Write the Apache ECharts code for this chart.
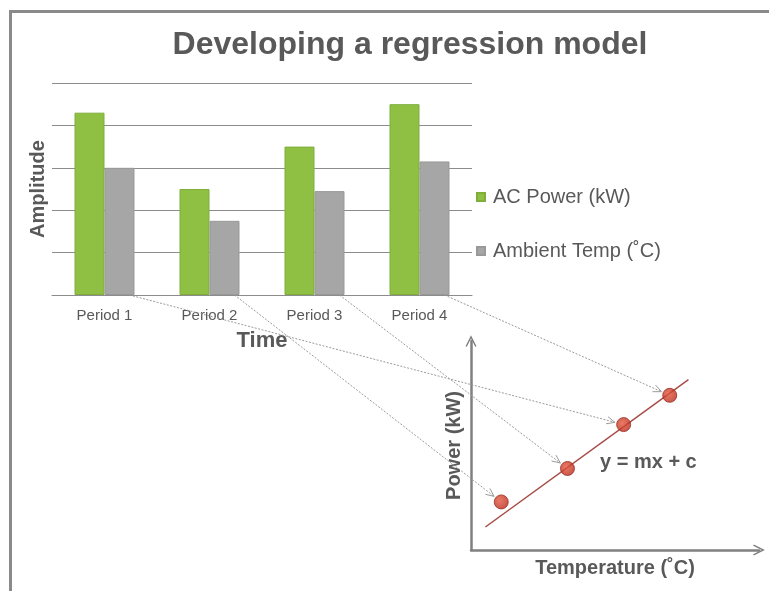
<!DOCTYPE html>
<html>
<head>
<meta charset="utf-8">
<script src="https://cdn.jsdelivr.net/npm/echarts@6/dist/echarts.min.js"></script>
<style>
  html, body { margin: 0; padding: 0; background: #ffffff; }
  #chart { width: 769px; height: 591px; }
</style>
</head>
<body>
<div id="chart"></div>
<script>
// Bar chart: power and temperature per period
var periods = ['Period 1', 'Period 2', 'Period 3', 'Period 4'];
var acPower = [4.3, 2.5, 3.5, 4.5];
var ambientTemp = [3.0, 1.75, 2.45, 3.15];

// Regression sketch: observations (temperature, power) and the fitted line
var observations = [[1.05, 2.3], [3.35, 3.9], [5.3, 6.0], [6.9, 7.4]];
var fitLine = [[0.5, 1.1], [7.55, 8.15]];
// Which observation each period feeds into
var periodToObservation = [2, 0, 1, 3];

var textColor = '#595959';
var axisGray = '#8c8c8c';
var fontFamily = 'Liberation Sans, Arial, sans-serif';

var chart = echarts.init(document.getElementById('chart'));

var chevron = 'path://M0,12 L6,0 L12,12 L10.6,12.8 L6,3.6 L1.4,12.8 Z';

var option = {
  animation: false,
  textStyle: { fontFamily: fontFamily },
  title: {
    text: 'Developing a regression model',
    left: 405,
    top: 24,
    textAlign: 'center',
    textStyle: { fontSize: 32, fontWeight: 'bold', color: textColor, fontFamily: fontFamily }
  },
  legend: {
    orient: 'vertical',
    left: 471,
    top: 180,
    itemWidth: 8,
    itemHeight: 8,
    itemGap: 30,
    icon: 'rect',
    textStyle: { fontSize: 20, color: textColor, lineHeight: 24, padding: [0, 0, 0, 3] },
    data: ['AC Power (kW)', 'Ambient Temp (˚C)']
  },
  grid: [
    { left: 52, top: 83, width: 420, height: 212 },
    { left: 471, top: 341, right: 10, bottom: 41 }
  ],
  xAxis: [
    {
      gridIndex: 0,
      type: 'category',
      data: periods,
      name: 'Time',
      nameLocation: 'middle',
      nameGap: 35,
      nameTextStyle: { fontSize: 22, fontWeight: 'bold', color: textColor },
      axisLine: { lineStyle: { color: axisGray, width: 1 } },
      axisTick: { length: 5, lineStyle: { color: axisGray } },
      axisLabel: { fontSize: 15, color: textColor, margin: 13 }
    },
    {
      gridIndex: 1,
      type: 'value',
      min: 0,
      max: 10,
      name: 'Temperature (˚C)',
      nameLocation: 'middle',
      nameGap: 8,
      nameTextStyle: { fontSize: 20, fontWeight: 'bold', color: textColor },
      axisLine: { lineStyle: { color: '#808080', width: 2.5 }, symbol: ['none', chevron], symbolSize: [11, 12] },
      axisTick: { show: false },
      axisLabel: { show: false },
      splitLine: { show: false }
    }
  ],
  yAxis: [
    {
      gridIndex: 0,
      type: 'value',
      min: 0,
      max: 5,
      interval: 1,
      name: 'Amplitude',
      nameLocation: 'middle',
      nameGap: 4,
      nameTextStyle: { fontSize: 20, fontWeight: 'bold', color: textColor },
      axisLine: { show: false },
      axisTick: { show: false },
      axisLabel: { show: false },
      splitLine: { lineStyle: { color: axisGray, width: 1 } }
    },
    {
      gridIndex: 1,
      type: 'value',
      min: 0,
      max: 10,
      name: 'Power (kW)',
      nameLocation: 'middle',
      nameGap: 7,
      nameTextStyle: { fontSize: 20, fontWeight: 'bold', color: textColor },
      axisLine: { lineStyle: { color: '#808080', width: 2.5 }, symbol: ['none', chevron], symbolSize: [11, 12] },
      axisTick: { show: false },
      axisLabel: { show: false },
      splitLine: { show: false }
    }
  ],
  series: [
    {
      name: 'AC Power (kW)',
      type: 'bar',
      xAxisIndex: 0,
      yAxisIndex: 0,
      data: acPower,
      barWidth: 30,
      barGap: '0%',
      itemStyle: { color: '#8fc044', borderColor: '#7fae3a', borderWidth: 1 }
    },
    {
      name: 'Ambient Temp (˚C)',
      type: 'bar',
      xAxisIndex: 0,
      yAxisIndex: 0,
      data: ambientTemp,
      barWidth: 30,
      barGap: '0%',
      itemStyle: { color: '#a6a6a6', borderColor: '#999999', borderWidth: 1 }
    },
    {
      name: 'fit',
      type: 'line',
      xAxisIndex: 1,
      yAxisIndex: 1,
      data: fitLine,
      symbol: 'none',
      lineStyle: { color: '#a64b46', width: 1.5 },
      z: 3
    },
    {
      name: 'observations',
      type: 'scatter',
      xAxisIndex: 1,
      yAxisIndex: 1,
      data: observations,
      symbolSize: 14,
      itemStyle: {
        color: new echarts.graphic.RadialGradient(0.4, 0.4, 0.7, [
          { offset: 0, color: '#e4573c' },
          { offset: 1, color: '#b3261a' }
        ]),
        borderColor: '#9a2a20',
        borderWidth: 1
      },
      z: 4
    }
  ],
  graphic: []
};

chart.setOption(option);

// Frame, equation label and the dotted connectors from each period to its observation
var graphics = [
  {
    type: 'polyline',
    shape: { points: [[10.5, 591], [10.5, 11.5], [769, 11.5]] },
    style: { stroke: '#8a8a8a', lineWidth: 3, fill: null },
    z: 10
  },
  {
    type: 'text',
    left: 600,
    top: 452,
    style: { text: 'y = mx + c', fontSize: 20, fontWeight: 'bold', fill: textColor, fontFamily: fontFamily },
    z: 10
  }
];

periods.forEach(function (p, i) {
  var start = chart.convertToPixel({ xAxisIndex: 0, yAxisIndex: 0 }, [i, 0]);
  var sx = start[0] + 25;
  var sy = start[1];
  var target = chart.convertToPixel({ xAxisIndex: 1, yAxisIndex: 1 }, observations[periodToObservation[i]]);
  var dx = target[0] - sx;
  var dy = target[1] - sy;
  var len = Math.sqrt(dx * dx + dy * dy);
  var ux = dx / len, uy = dy / len;
  var ex = target[0] - ux * 9;
  var ey = target[1] - uy * 9;
  graphics.push({
    type: 'line',
    shape: { x1: sx, y1: sy, x2: ex, y2: ey },
    style: { stroke: '#9a9a9a', lineWidth: 1, lineDash: [2, 1.5] },
    z: 5
  });
  var ang = Math.atan2(uy, ux);
  var hl = 9, ha = 0.42;
  graphics.push({
    type: 'polyline',
    shape: {
      points: [
        [ex - hl * Math.cos(ang - ha), ey - hl * Math.sin(ang - ha)],
        [ex, ey],
        [ex - hl * Math.cos(ang + ha), ey - hl * Math.sin(ang + ha)]
      ]
    },
    style: { stroke: '#9a9a9a', lineWidth: 1, fill: null },
    z: 5
  });
});

chart.setOption({ graphic: graphics });
</script>
</body>
</html>
